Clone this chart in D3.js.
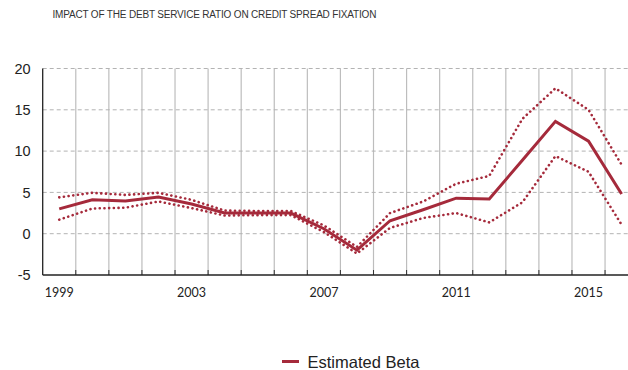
<!DOCTYPE html>
<html>
<head>
<meta charset="utf-8">
<script src="https://cdn.jsdelivr.net/npm/d3@7"></script>
<style>
  html, body { margin: 0; padding: 0; background: #fff; }
  svg { display: block; }
</style>
</head>
<body>
<svg id="chart" width="628" height="370"></svg>
<script>
// Years on the category axis
const years = [1999, 2000, 2001, 2002, 2003, 2004, 2005, 2006, 2007, 2008,
               2009, 2010, 2011, 2012, 2013, 2014, 2015, 2016];
// Estimated beta and its confidence band
const beta  = [3.0, 4.1, 3.95, 4.45, 3.6, 2.5, 2.5, 2.5, 0.6, -2.0,
               1.57, 2.9, 4.3, 4.2, 8.9, 13.6, 11.2, 4.8];
const upper = [4.4, 4.95, 4.7, 4.95, 4.1, 2.8, 2.75, 2.75, 1.0, -1.6,
               2.5, 3.9, 6.05, 7.0, 13.9, 17.6, 15.0, 8.35];
const lower = [1.7, 3.05, 3.15, 3.9, 3.1, 2.2, 2.25, 2.25, 0.2, -2.4,
               0.7, 1.9, 2.5, 1.37, 3.8, 9.4, 7.5, 1.1];
const yTicks = [-5, 0, 5, 10, 15, 20];
const xLabels = [1999, 2003, 2007, 2011, 2015];

const title = "IMPACT OF THE DEBT SERVICE RATIO ON CREDIT SPREAD FIXATION";
const legendLabel = "Estimated Beta";
const red = "#a52a3b";

const svg = d3.select("#chart");
const plotLeft = 42.7, plotTop = 68.5, plotBottom = 275, bandW = 33.08;

const x = d3.scaleBand().domain(years).range([plotLeft, plotLeft + bandW * years.length]).paddingInner(0).paddingOuter(0);
const y = d3.scaleLinear().domain([-5, 20]).range([plotBottom, plotTop]);

// Title
svg.append("text")
  .attr("x", 52.5).attr("y", 17.5)
  .attr("font-family", "Liberation Sans, Arial, sans-serif")
  .attr("font-size", 10).attr("letter-spacing", -0.18)
  .attr("fill", "#333")
  .text(title);

// Vertical grid at band boundaries
const bounds = years.slice(1).map(d => x(d));
svg.append("g").selectAll("line").data(bounds).join("line")
  .attr("x1", d => d).attr("x2", d => d)
  .attr("y1", plotTop).attr("y2", plotBottom)
  .attr("stroke", "#bdbdbd").attr("stroke-width", 1.2);

// Horizontal dashed grid
svg.append("g").selectAll("line").data(yTicks.filter(v => v > -5)).join("line")
  .attr("x1", plotLeft).attr("x2", 628)
  .attr("y1", d => y(d)).attr("y2", d => y(d))
  .attr("stroke", "#b3b3b3").attr("stroke-width", 1)
  .attr("stroke-dasharray", "4,3");

// Small ticks rising from the base axis
svg.append("g").selectAll("line").data(bounds).join("line")
  .attr("x1", d => d).attr("x2", d => d)
  .attr("y1", plotBottom - 5).attr("y2", plotBottom)
  .attr("stroke", "#333").attr("stroke-width", 1);

// Y axis labels (plain hyphen for negatives)
const yAxis = svg.append("g")
  .attr("transform", `translate(${plotLeft},0)`)
  .call(d3.axisLeft(y).tickValues(yTicks).tickFormat(d => String(d)).tickSize(0).tickPadding(12));
yAxis.select(".domain").remove();
yAxis.selectAll("text")
  .attr("font-family", "Liberation Sans, Arial, sans-serif")
  .attr("font-size", 14.5).attr("fill", "#222");

// X axis labels
const xAxis = svg.append("g")
  .attr("transform", `translate(0,${plotBottom})`)
  .call(d3.axisBottom(x).tickValues(xLabels).tickSize(0).tickPadding(13));
xAxis.select(".domain").remove();
xAxis.selectAll("text")
  .attr("font-family", "Lato, Open Sans, sans-serif")
  .attr("font-size", 12.5).attr("fill", "#222");

// Axis lines
svg.append("line").attr("x1", plotLeft).attr("x2", plotLeft).attr("y1", plotTop).attr("y2", plotBottom)
  .attr("stroke", "#222").attr("stroke-width", 1.3);
svg.append("line").attr("x1", plotLeft).attr("x2", 628).attr("y1", plotBottom).attr("y2", plotBottom)
  .attr("stroke", "#222").attr("stroke-width", 1.3);

const line = d3.line()
  .x((d, i) => x(years[i]) + x.bandwidth() / 2)
  .y(d => y(d));

// Confidence bounds
[upper, lower].forEach(series => {
  svg.append("path").datum(series)
    .attr("d", line)
    .attr("fill", "none")
    .attr("stroke", red).attr("stroke-width", 2.6)
    .attr("stroke-linecap", "round")
    .attr("stroke-dasharray", "0.1,4.6");
});

// Estimated beta
svg.append("path").datum(beta)
  .attr("d", line)
  .attr("fill", "none")
  .attr("stroke", red).attr("stroke-width", 3)
  .attr("stroke-linejoin", "miter");

// Legend
svg.append("line").attr("x1", 282).attr("x2", 299).attr("y1", 361.5).attr("y2", 361.5)
  .attr("stroke", red).attr("stroke-width", 3);
svg.append("text").attr("x", 307.5).attr("y", 367.5)
  .attr("font-family", "Liberation Sans, Arial, sans-serif")
  .attr("font-size", 16.5).attr("fill", "#222")
  .text(legendLabel);
</script>
</body>
</html>
